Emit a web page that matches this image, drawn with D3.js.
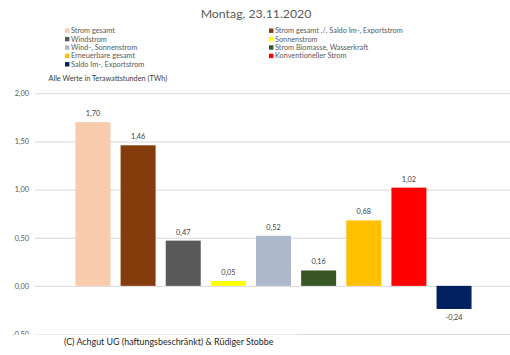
<!DOCTYPE html>
<html><head><meta charset="utf-8">
<script src="https://cdn.jsdelivr.net/npm/d3@7"></script>
<style>body{margin:0;background:#fff}svg{display:block}</style>
</head><body>
<script>
const title = "Montag, 23.11.2020";
const categories = ["Strom gesamt","Strom gesamt ./. Saldo Im-, Exportstrom","Windstrom","Sonnenstrom","Wind-, Sonnenstrom","Strom Biomasse, Wasserkraft","Erneuerbare gesamt","Konventioneller Strom","Saldo Im-, Exportstrom"];
const values = [1.70,1.46,0.47,0.05,0.52,0.16,0.68,1.02,-0.24];
const colors = ["#F8CBAD","#843C0C","#595959","#FFFF00","#ADB9CA","#375623","#FFC000","#FF0000","#002060"];
const yTicks = [-0.5,0,0.5,1,1.5,2];
const unitNote = "Alle Werte in Terawattstunden (TWh)";
const footer = "(C) Achgut UG (haftungsbeschränkt) & Rüdiger Stobbe";

const W=510,H=355;
const font="Lato, 'Open Sans', sans-serif";
const fmt = v => d3.format(".2f")(v).replace(".",",").replace("\u2212","-");
const svg=d3.select("body").append("svg").attr("width",W).attr("height",H);

svg.append("text").attr("x",256).attr("y",18).attr("text-anchor","middle")
  .attr("font-family",font).attr("font-size",12.3).attr("fill","#595959").text(title);

// legend
const legOrder=[0,1,2,3,4,5,6,7,8];
legOrder.forEach((d,i)=>{
  const col=i%2,row=Math.floor(i/2);
  const x=col?269:65, y=30.7+row*8.4;
  svg.append("rect").attr("x",x).attr("y",y-2.2).attr("width",4.4).attr("height",4.4).attr("fill",colors[d]);
  svg.append("text").attr("x",x+6).attr("y",y+2.4).attr("font-family",font).attr("font-size",7.3)
    .attr("fill","#595959").text(categories[d]);
});

svg.append("text").attr("x",48.5).attr("y",81.3).attr("font-family",font).attr("font-size",7.3)
  .attr("fill","#404040").text(unitNote);

const y=d3.scaleLinear().domain([-0.5,2]).range([334,93.3]);
const x=d3.scaleBand().domain(d3.range(values.length)).range([70.5,476.5]).paddingInner(0.225).paddingOuter(0.11);

const yAxis=d3.axisLeft(y).tickValues(yTicks).tickSize(-(510-35)).tickFormat(fmt);
const gy=svg.append("g").attr("transform","translate(35,0)").call(yAxis);
gy.select(".domain").remove();
gy.selectAll(".tick line").attr("stroke","#D9D9D9").attr("stroke-width",1);
gy.selectAll(".tick text").attr("x",-6).attr("font-family",font).attr("font-size",7.3).attr("fill","#595959");

svg.append("g").selectAll("rect").data(values).join("rect")
  .attr("x",(d,i)=>x(i)).attr("width",x.bandwidth())
  .attr("y",d=>y(Math.max(0,d))).attr("height",d=>Math.abs(y(d)-y(0)))
  .attr("fill",(d,i)=>colors[i]);

svg.append("g").selectAll("text").data(values).join("text")
  .attr("x",(d,i)=>x(i)+x.bandwidth()/2)
  .attr("y",d=>d>=0? y(d)-6 : y(d)+11)
  .attr("text-anchor","middle").attr("font-family",font).attr("font-size",7.3).attr("fill","#404040")
  .text(fmt);

// footer box covering lower part
svg.append("rect").attr("x",8).attr("y",334.5).attr("width",289).attr("height",20.5).attr("fill","#fff");
svg.append("text").attr("x",64).attr("y",344.5).attr("font-family",font).attr("font-size",8.9)
  .attr("fill","#262626").text(footer);
</script>
</body></html>
